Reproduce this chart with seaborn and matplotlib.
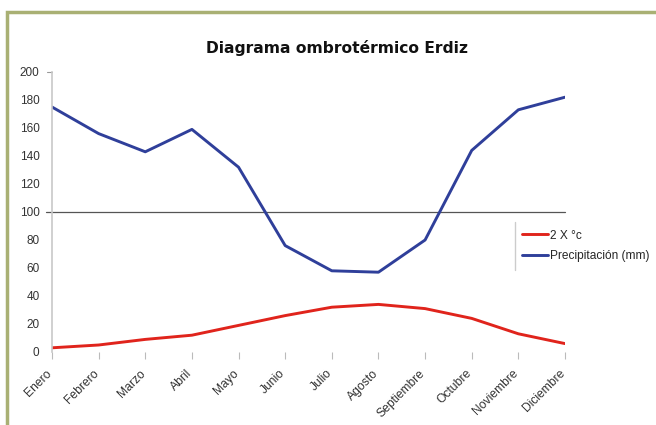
import matplotlib
matplotlib.use("Agg")
import matplotlib.pyplot as plt
import matplotlib.transforms as mtransforms
import numpy as np
import pandas as pd
import seaborn as sns
from matplotlib.lines import Line2D
from matplotlib.patches import Rectangle

# Data
months = ["Enero", "Febrero", "Marzo", "Abril", "Mayo", "Junio", "Julio",
          "Agosto", "Septiembre", "Octubre", "Noviembre", "Diciembre"]
temp_x2 = [3, 5, 9, 12, 19, 26, 32, 34, 31, 24, 13, 6]
precip = [175, 156, 143, 159, 132, 76, 58, 57, 80, 144, 173, 182]

sns.set_style("white")
plt.rcParams["font.family"] = ["Liberation Sans", "DejaVu Sans"]

df = pd.DataFrame({"mes": np.arange(len(months)), "temp": temp_x2, "prec": precip})

fig = plt.figure(figsize=(6.56, 4.25), dpi=100)
ax = fig.add_axes([52 / 656, 1 - 352 / 425, (565 - 52) / 656, (352 - 72) / 425])

red, blue = "#e0241c", "#2f3f9a"
sns.lineplot(data=df, x="mes", y="temp", ax=ax, color=red, linewidth=2.1,
             solid_joinstyle="round", solid_capstyle="round")
sns.lineplot(data=df, x="mes", y="prec", ax=ax, color=blue, linewidth=2.1,
             solid_joinstyle="round", solid_capstyle="round")

ax.axhline(100, color="#555555", linewidth=0.9, xmin=-0.012, xmax=1.0, clip_on=False, zorder=1)

ax.set_xlim(0, len(months) - 1)
ax.set_ylim(0, 200)
ax.set_yticks(range(0, 201, 20))
ax.set_xticks(df["mes"])
ax.set_xticklabels(months, rotation=45, ha="right", rotation_mode="anchor", fontsize=8.7)
ax.tick_params(axis="y", labelsize=8.5, length=0, pad=9, labelcolor="#333333")
ax.tick_params(axis="x", bottom=True, length=5, width=0.8, color="#bbbbbb",
               direction="out", pad=6, labelcolor="#333333")
ax.set_xlabel("")
ax.set_ylabel("")

# nudge the rotated month labels a little to the left, as in the original
shift = mtransforms.ScaledTranslation(-6 / 100, 0, fig.dpi_scale_trans)
for lab in ax.get_xticklabels():
    lab.set_transform(lab.get_transform() + shift)

for side in ["top", "right", "bottom"]:
    ax.spines[side].set_visible(False)
ax.spines["left"].set_color("#c8c8c8")
ax.spines["left"].set_linewidth(1.2)

# small tick mark on the y axis at 200
ax.plot([-0.1, 0], [200, 200], color="#999999", linewidth=0.8, clip_on=False)

fig.text(337 / 656, 1 - 48 / 425, "Diagrama ombrotérmico Erdiz", ha="center", va="center",
         fontsize=11.2, fontweight="bold", family=["DejaVu Sans"], color="#111111")

handles = [Line2D([], [], color=red, linewidth=2.1),
           Line2D([], [], color=blue, linewidth=2.1)]
fig.legend(handles, ["2 X °c", "Precipitación (mm)"], loc="center left",
           bbox_to_anchor=(517 / 656, 1 - 246 / 425), frameon=False, fontsize=8.6,
           handlelength=2.2, handletextpad=0.15, labelspacing=0.75, borderaxespad=0)
fig.add_artist(Line2D([515 / 656, 515 / 656], [1 - 222 / 425, 1 - 270 / 425],
                      color="#cccccc", linewidth=1.0))

# olive frame
fig.add_artist(Rectangle((7 / 656, -0.05), 1.1, 1 - 12 / 425 + 0.05, fill=False,
                         edgecolor="#a9b074", linewidth=2.5, transform=fig.transFigure))

fig.savefig("out.png", dpi=100)
